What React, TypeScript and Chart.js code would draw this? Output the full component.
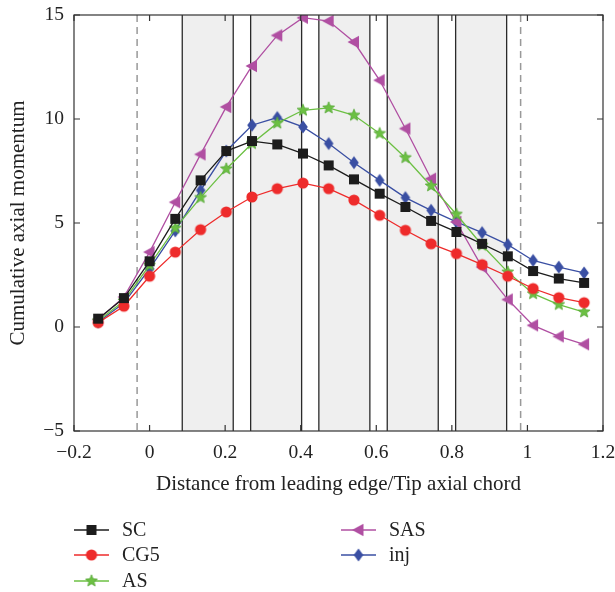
import React, { useEffect, useRef } from "react";
import { Chart, registerables } from "chart.js";

Chart.register(...registerables);

// ---- data ----
const xValues = [-0.136, -0.068, 0, 0.068, 0.135, 0.203, 0.271, 0.338, 0.406, 0.474, 0.541, 0.609, 0.677, 0.745, 0.812, 0.88, 0.948, 1.015, 1.083, 1.15];
const scValues = [0.4, 1.39, 3.16, 5.2, 7.05, 8.46, 8.94, 8.78, 8.34, 7.77, 7.1, 6.41, 5.77, 5.1, 4.57, 4.0, 3.4, 2.69, 2.33, 2.12];
const cg5Values = [0.21, 1.0, 2.44, 3.6, 4.68, 5.53, 6.25, 6.65, 6.92, 6.65, 6.1, 5.37, 4.65, 4.0, 3.53, 3.0, 2.44, 1.85, 1.41, 1.17];
const asValues = [0.3, 1.25, 2.97, 4.75, 6.22, 7.6, 8.82, 9.8, 10.42, 10.53, 10.18, 9.3, 8.14, 6.78, 5.42, 3.93, 2.64, 1.6, 1.08, 0.72];
const sasValues = [0.35, 1.44, 3.6, 6.0, 8.3, 10.58, 12.55, 14.02, 14.87, 14.71, 13.7, 11.86, 9.54, 7.13, 5.05, 2.88, 1.32, 0.08, -0.45, -0.83];
const injValues = [0.24, 1.15, 2.8, 4.62, 6.57, 8.46, 9.7, 10.07, 9.62, 8.82, 7.9, 7.05, 6.22, 5.61, 5.05, 4.54, 3.96, 3.2, 2.88, 2.6];

const bandStarts = [0.0865, 0.2675, 0.448, 0.629, 0.81];
const bandEnds = [0.2214, 0.4024, 0.583, 0.764, 0.945];
const dashedLines = [-0.033, 0.982];

const xTickValues = [-0.2, 0, 0.2, 0.4, 0.6, 0.8, 1, 1.2];
const yTickValues = [-5, 0, 5, 10, 15];

const xTitle = "Distance from leading edge/Tip axial chord";
const yTitle = "Cumulative axial momentum";

const FONT = "'Liberation Serif', 'DejaVu Serif', serif";
const TEXT = "#222222";

function fmt(v: number): string {
  const r = Math.round(v * 10) / 10;
  if (r < 0) return "\u2212" + String(Math.abs(r));
  return String(r);
}

function makeMarker(size: number, draw: (ctx: CanvasRenderingContext2D, c: number) => void): HTMLCanvasElement {
  const cv = document.createElement("canvas");
  cv.width = size;
  cv.height = size;
  const ctx = cv.getContext("2d")!;
  draw(ctx, size / 2);
  return cv;
}

export default function App() {
  const ref = useRef<HTMLCanvasElement | null>(null);

  useEffect(() => {
    document.body.style.margin = "0";
    const canvas = ref.current!;

    const black = "#1c1c1c";
    const red = "#ee2b2b";
    const green = "#6cc043";
    const magenta = "#b04fa2";
    const blue = "#3a4fa3";

    const sq = makeMarker(14, (ctx, c) => {
      ctx.fillStyle = black;
      ctx.fillRect(c - 5, c - 5, 10, 10);
    });
    const circ = makeMarker(14, (ctx, c) => {
      ctx.fillStyle = red;
      ctx.beginPath();
      ctx.arc(c, c, 5.6, 0, Math.PI * 2);
      ctx.fill();
    });
    const star = makeMarker(16, (ctx, c) => {
      ctx.fillStyle = green;
      ctx.strokeStyle = "#58a838";
      ctx.lineWidth = 0.8;
      ctx.beginPath();
      for (let i = 0; i < 10; i++) {
        const r = i % 2 === 0 ? 6.2 : 2.7;
        const a = -Math.PI / 2 + (i * Math.PI) / 5;
        const px = c + r * Math.cos(a);
        const py = c + r * Math.sin(a);
        if (i === 0) ctx.moveTo(px, py);
        else ctx.lineTo(px, py);
      }
      ctx.closePath();
      ctx.fill();
      ctx.stroke();
    });
    const tri = makeMarker(16, (ctx, c) => {
      ctx.fillStyle = magenta;
      ctx.beginPath();
      ctx.moveTo(c - 6.5, c);
      ctx.lineTo(c + 5, c - 6.2);
      ctx.lineTo(c + 5, c + 6.2);
      ctx.closePath();
      ctx.fill();
    });
    const dia = makeMarker(16, (ctx, c) => {
      ctx.fillStyle = blue;
      ctx.beginPath();
      ctx.moveTo(c, c - 6.4);
      ctx.lineTo(c + 4.8, c);
      ctx.lineTo(c, c + 6.4);
      ctx.lineTo(c - 4.8, c);
      ctx.closePath();
      ctx.fill();
    });

    const mk = (label: string, vals: number[], color: string, marker: HTMLCanvasElement) => ({
      label,
      data: xValues.map((x, i) => ({ x, y: vals[i] })),
      borderColor: color,
      backgroundColor: color,
      borderWidth: 1.3,
      pointStyle: marker as any,
      pointRadius: 6,
      tension: 0,
    });

    const datasets = [
      mk("SC", scValues, black, sq),
      mk("CG5", cg5Values, red, circ),
      mk("AS", asValues, green, star),
      mk("SAS", sasValues, magenta, tri),
      mk("inj", injValues, blue, dia),
    ];

    const legendSlots = [
      { ds: 0, col: 0, row: 0 },
      { ds: 1, col: 0, row: 1 },
      { ds: 2, col: 0, row: 2 },
      { ds: 3, col: 1, row: 0 },
      { ds: 4, col: 1, row: 1 },
    ];
    const markers = [sq, circ, star, tri, dia];
    const colors = [black, red, green, magenta, blue];

    const decor = {
      id: "decor",
      beforeDatasetsDraw(chart: any) {
        const { ctx, chartArea, scales } = chart;
        const xs = scales.x;
        ctx.save();
        ctx.beginPath();
        ctx.rect(chartArea.left, chartArea.top, chartArea.right - chartArea.left, chartArea.bottom - chartArea.top);
        ctx.clip();
        for (let i = 0; i < bandStarts.length; i++) {
          const a = xs.getPixelForValue(bandStarts[i]);
          const b = xs.getPixelForValue(bandEnds[i]);
          ctx.fillStyle = "#efefef";
          ctx.fillRect(a, chartArea.top, b - a, chartArea.bottom - chartArea.top);
          ctx.strokeStyle = "#2a2a2a";
          ctx.lineWidth = 1.3;
          for (const p of [a, b]) {
            ctx.beginPath();
            ctx.moveTo(p, chartArea.top);
            ctx.lineTo(p, chartArea.bottom);
            ctx.stroke();
          }
        }
        ctx.strokeStyle = "#999999";
        ctx.lineWidth = 1.5;
        ctx.setLineDash([7, 5]);
        for (const d of dashedLines) {
          const p = xs.getPixelForValue(d);
          ctx.beginPath();
          ctx.moveTo(p, chartArea.top);
          ctx.lineTo(p, chartArea.bottom);
          ctx.stroke();
        }
        ctx.restore();
      },
      afterDraw(chart: any) {
        const { ctx, chartArea, scales } = chart;
        const xs = scales.x;
        const ys = scales.y;
        ctx.save();
        // frame
        ctx.strokeStyle = "#333333";
        ctx.lineWidth = 1.2;
        ctx.strokeRect(chartArea.left, chartArea.top, chartArea.right - chartArea.left, chartArea.bottom - chartArea.top);
        // inward ticks
        const tl = 6;
        for (const v of xTickValues) {
          const p = xs.getPixelForValue(v);
          ctx.beginPath();
          ctx.moveTo(p, chartArea.bottom);
          ctx.lineTo(p, chartArea.bottom - tl);
          ctx.moveTo(p, chartArea.top);
          ctx.lineTo(p, chartArea.top + tl);
          ctx.stroke();
        }
        for (const v of yTickValues) {
          const p = ys.getPixelForValue(v);
          ctx.beginPath();
          ctx.moveTo(chartArea.left, p);
          ctx.lineTo(chartArea.left + tl, p);
          ctx.moveTo(chartArea.right, p);
          ctx.lineTo(chartArea.right - tl, p);
          ctx.stroke();
        }
        // axis titles
        ctx.fillStyle = TEXT;
        ctx.font = `21px ${FONT}`;
        ctx.textAlign = "center";
        ctx.textBaseline = "middle";
        ctx.fillText(xTitle, (chartArea.left + chartArea.right) / 2, 484);
        ctx.save();
        ctx.translate(18, (chartArea.top + chartArea.bottom) / 2);
        ctx.rotate(-Math.PI / 2);
        ctx.fillText(yTitle, 0, 0);
        ctx.restore();
        // legend
        ctx.font = `20px ${FONT}`;
        const colX = [74, 341];
        const rowY = [530, 555, 581];
        ctx.textAlign = "left";
        for (const s of legendSlots) {
          const x0 = colX[s.col];
          const y0 = rowY[s.row];
          ctx.strokeStyle = colors[s.ds];
          ctx.lineWidth = 1.5;
          ctx.beginPath();
          ctx.moveTo(x0, y0);
          ctx.lineTo(x0 + 35, y0);
          ctx.stroke();
          const m = markers[s.ds];
          ctx.drawImage(m, x0 + 17.5 - m.width / 2, y0 - m.height / 2);
          ctx.fillStyle = TEXT;
          ctx.fillText(datasets[s.ds].label, x0 + 48, y0 + 1);
        }
        ctx.restore();
      },
    };

    const chart = new Chart(canvas, {
      type: "line",
      data: { datasets: datasets as any },
      options: {
        animation: false,
        responsive: false,
        maintainAspectRatio: false,
        layout: { padding: { top: 15, right: 12, left: 0, bottom: 0 } },
        plugins: { legend: { display: false }, tooltip: { enabled: false } },
        font: { family: FONT },
        scales: {
          x: {
            type: "linear",
            min: -0.2,
            max: 1.2,
            grid: { display: false, drawTicks: false },
            border: { display: false },
            afterBuildTicks: (s: any) => {
              s.ticks = xTickValues.map((v) => ({ value: v }));
            },
            afterFit: (s: any) => {
              s.height = 161;
              s.paddingLeft = 0;
              s.paddingRight = 0;
            },
            ticks: {
              padding: 10,
              color: TEXT,
              font: { family: FONT, size: 19.5 },
              maxRotation: 0,
              autoSkip: false,
              callback: (v: any) => fmt(Number(v)),
            },
          },
          y: {
            min: -5,
            max: 15,
            grid: { display: false, drawTicks: false },
            border: { display: false },
            afterBuildTicks: (s: any) => {
              s.ticks = yTickValues.map((v) => ({ value: v }));
            },
            afterFit: (s: any) => {
              s.width = 74;
              s.paddingTop = 0;
              s.paddingBottom = 0;
            },
            ticks: {
              padding: 10,
              color: TEXT,
              font: { family: FONT, size: 19.5 },
              callback: (v: any) => fmt(Number(v)),
            },
          },
        },
      } as any,
      plugins: [decor],
    });

    return () => chart.destroy();
  }, []);

  return (
    <div style={{ width: 615, height: 592, position: "relative" }}>
      <canvas ref={ref} width={615} height={592} style={{ width: 615, height: 592, display: "block" }} />
    </div>
  );
}
